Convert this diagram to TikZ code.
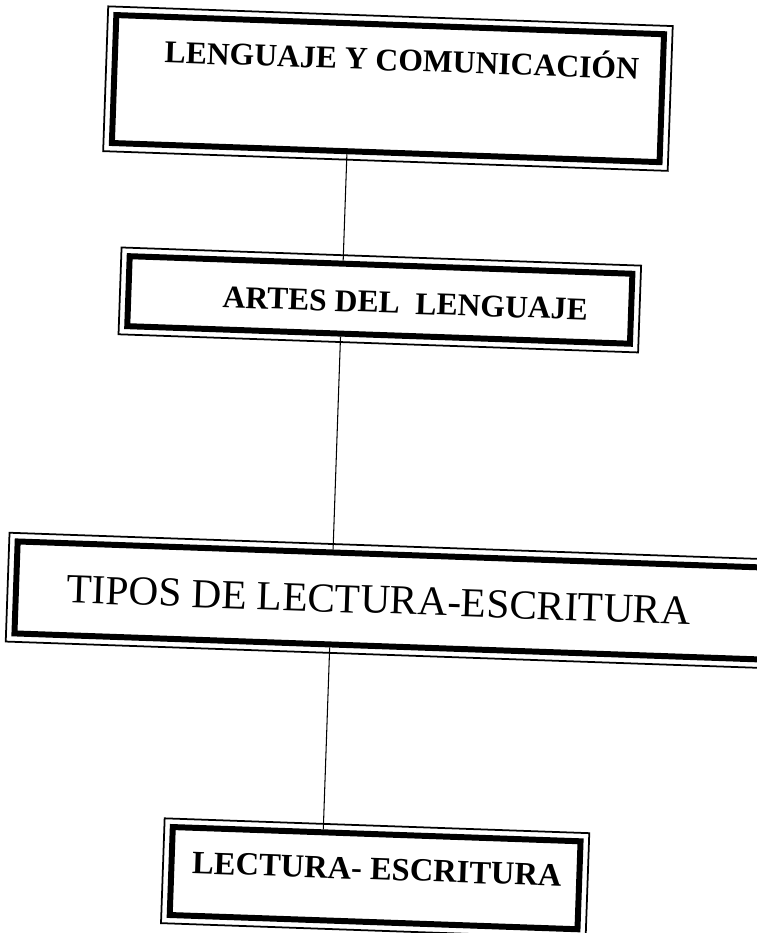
\documentclass[tikz,border=0pt]{standalone}
\usepackage{fontspec}
\setmainfont{Liberation Serif}
\usepackage{tikz}
\usetikzlibrary{calc}

\tikzstyle{tsFrame} = [
    rectangle,
    draw=black,
    line width=3.4pt,
    inner sep=0pt,
    fill=none
]
\tikzstyle{tsLabelBold} = [
    text=black,
    font=\bfseries\fontsize{18}{20}\selectfont
]
\tikzstyle{tsLabel} = [
    text=black,
    font=\fontsize{23.5}{26}\selectfont
]
\tikzstyle{tsLink} = [
    draw=black,
    line width=0.6pt
]

\begin{document}
\begin{tikzpicture}

    \useasboundingbox (0,0) rectangle (15.12,-18.66);

    % the scan is tilted a little
    \begin{scope}[rotate around={-2:(7.56,-9.33)}, transform shape]

        \node[  tsFrame,
                minimum width=10.96cm,
                minimum height=2.56cm] (lyc) at (7.495,-1.77) {};

        \node[  tsFrame,
                minimum width=10.06cm,
                minimum height=1.40cm] (adl) at (7.48,-6.0) {};

        \node[  tsFrame,
                minimum width=14.96cm,
                minimum height=1.84cm] (tle) at (7.89,-12.0) {};

        \node[  tsFrame,
                minimum width=8.16cm,
                minimum height=1.76cm] (lye) at (7.79,-17.56) {};

        % thin outer line of each frame
        \foreach \n in {lyc,adl,tle,lye}
            \draw[line width=1pt] ([shift={(-3.1pt,3.1pt)}]\n.north west)
                rectangle ([shift={(3.1pt,-3.1pt)}]\n.south east);

        \node[tsLabelBold] (lycText) at (7.755,-1.14) {LENGUAJE Y COMUNICACIÓN};
        \node[tsLabelBold] (adlText) at (7.99,-6.05) {ARTES DEL~~LENGUAJE};
        \node[tsLabel] (tleText) at (7.67,-12.0) {TIPOS DE LECTURA-ESCRITURA};
        \node[tsLabelBold, font=\bfseries\fontsize{18.5}{20}\selectfont]
            (lyeText) at (7.82,-17.38) {LECTURA- ESCRITURA};

        \draw[tsLink] ([xshift=-0.775cm]lyc.south) -- ([xshift=-0.76cm]adl.north);
        \draw[tsLink] ([xshift=-0.76cm]adl.south) -- ([xshift=-1.17cm]tle.north);
        \draw[tsLink] ([xshift=-1.17cm]tle.south) -- ([xshift=-1.07cm]lye.north);

    \end{scope}

\end{tikzpicture}
\end{document}
